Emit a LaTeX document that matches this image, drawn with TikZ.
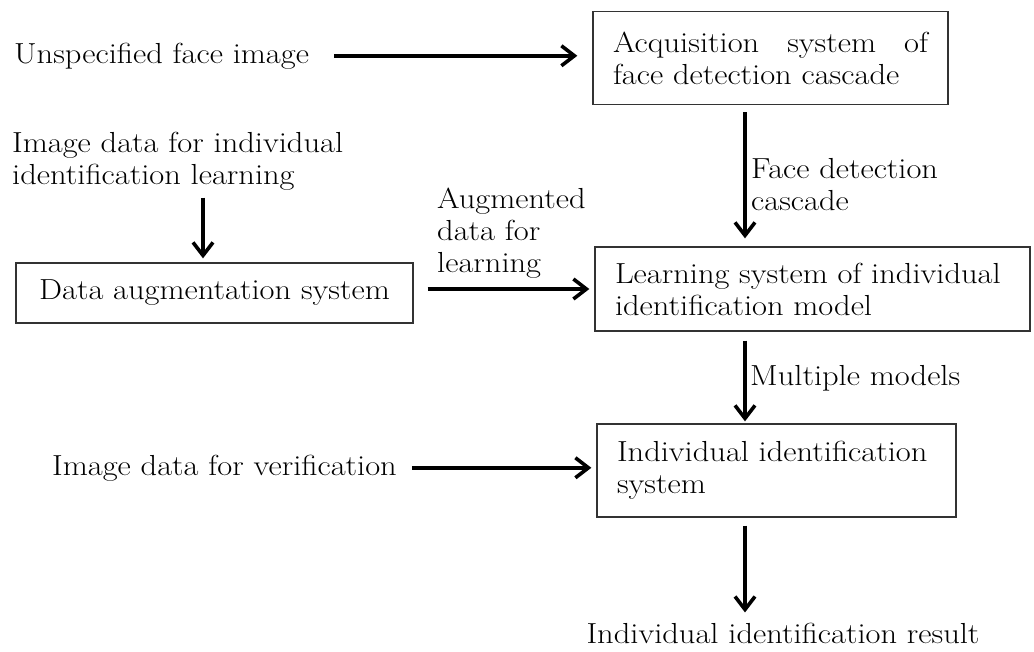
\documentclass[tikz,border=0pt]{standalone}
\usepackage{fontspec}
\setmainfont{Latin Modern Roman}[FakeStretch=1.12]
\usetikzlibrary{arrows.meta}
\begin{document}
\begin{tikzpicture}[x=1pt,y=-1pt,
  every node/.style={font=\fontsize{29}{32}\selectfont, inner sep=0pt},
  sysbox/.style={draw=black!80, line width=1.3pt, align=left},
  lbl/.style={align=left},
  flow/.style={line width=3.6pt, -{Straight Barb[length=13pt,width=20pt]}}]
\useasboundingbox (0,0) rectangle (1034,651);

% system boxes
\node[sysbox, minimum width=355pt, minimum height=93pt] (acq) at (770.5,58)
  {\makebox[315pt]{Acquisition\hfill system\hfill of}\\face detection cascade};
\node[sysbox, minimum width=435pt, minimum height=84pt, text width=395pt] (lr) at (812.5,289)
  {Learning system of individual\\identification model};
\node[sysbox, minimum width=359pt, minimum height=93pt, text width=319pt] (ind) at (776.5,470.5)
  {Individual identification\\system};
\node[sysbox, minimum width=397pt, minimum height=60pt] (da) at (214.5,293)
  {Data augmentation system};

% inputs, outputs and edge labels
\node[anchor=base west] (ufi) at (14,63) {Unspecified face image};
\node[lbl, anchor=north west] (idl) at (12,132) {Image data for individual\\identification learning};
\node[lbl, anchor=north west] (aug) at (437,188) {Augmented\\data for\\learning};
\node[lbl, anchor=north west] (fdc) at (751,158) {Face detection\\cascade};
\node[anchor=base west] (mm) at (750,385) {Multiple models};
\node[anchor=base west] (ver) at (52,475) {Image data for verification};
\node[anchor=base] (res) at (783,643) {Individual identification result};

% columns of the vertical connectors
\coordinate (colR) at (745,0);
\coordinate (colL) at (203,0);

% connectors
\draw[flow, shorten <=25pt, shorten >=15pt] (ufi.east) -- (ufi.east -| acq.west);
\draw[flow, shorten <=7pt, shorten >=8pt] (acq.south -| colR) -- (lr.north -| colR);
\draw[flow, shorten <=7pt, shorten >=4pt] (idl.south -| colL) -- (da.north -| colL);
\draw[flow, shorten <=14pt, shorten >=5pt] (da.east |- lr.west) -- (lr.west);
\draw[flow, shorten <=9pt, shorten >=2pt] (lr.south -| colR) -- (ind.north -| colR);
\draw[flow, shorten <=15pt, shorten >=5pt] (ver.east) -- (ver.east -| ind.west);
\draw[flow, shorten <=8pt, shorten >=10pt] (ind.south -| colR) -- (res.north -| colR);
\end{tikzpicture}
\end{document}
